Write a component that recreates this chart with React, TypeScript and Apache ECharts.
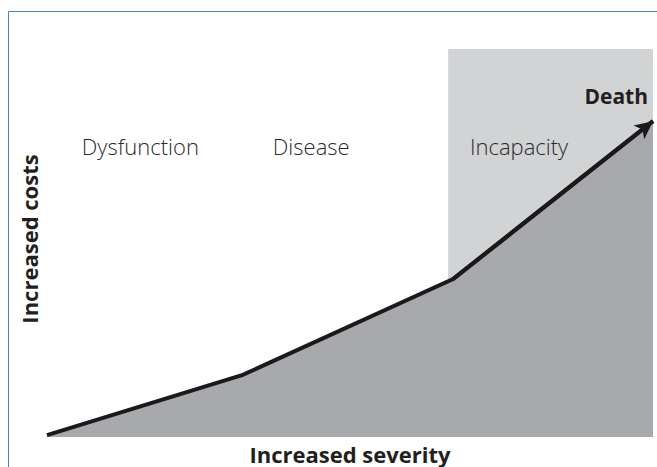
import React, { useEffect, useRef } from "react";
import * as echarts from "echarts";

const severity = [0, 32.3, 67.0, 100];
const costs = [0.5, 16.0, 40.7, 81.4];
const stageLabels = ["Dysfunction", "Disease", "Incapacity"];
const stageCenters = [15.4, 43.6, 77.9];
const incapacityStart = 66.2;
const endLabel = "Death";
const xName = "Increased severity";
const yName = "Increased costs";

const FONT = "'Open Sans', 'Noto Sans', sans-serif";

export default function App() {
  const ref = useRef<HTMLDivElement>(null);
  useEffect(() => {
    if (!ref.current) return;
    const chart = echarts.init(ref.current, undefined, { renderer: "svg" });
    const gridLeft = 47;
    const gridRight = 4;
    const gridTop = 49;
    const gridBottom = 30;
    const W = 657;
    const plotW = W - gridLeft - gridRight;
    const data = severity.map((x, i) => [x, costs[i]]);
    const last = data.length - 1;
    chart.setOption({
      animation: false,
      grid: {
        left: gridLeft,
        right: gridRight,
        top: gridTop,
        bottom: gridBottom,
        containLabel: false,
        outerBoundsMode: "none",
      },
      xAxis: {
        type: "value",
        min: 0,
        max: 100,
        name: xName,
        nameLocation: "middle",
        nameGap: 5,
        nameTextStyle: {
          fontFamily: FONT,
          fontWeight: "bold",
          fontSize: 22,
          lineHeight: 24,
          color: "#231f20",
          verticalAlign: "top",
        },
        axisLine: { show: false },
        axisTick: { show: false },
        axisLabel: { show: false },
        splitLine: { show: false },
      },
      yAxis: {
        type: "value",
        min: 0,
        max: 100,
        axisLine: { show: false },
        axisTick: { show: false },
        axisLabel: { show: false },
        splitLine: { show: false },
      },
      series: [
        {
          type: "line",
          data,
          symbol: "none",
          clip: false,
          lineStyle: { color: "#1a1a1a", width: 4, join: "miter" },
          areaStyle: { color: "#a7a9ac", opacity: 1 },
          z: 3,
          markArea: {
            silent: true,
            itemStyle: { color: "#d1d3d4" },
            data: [[{ xAxis: incapacityStart, yAxis: 0 }, { xAxis: 100, yAxis: 100 }]],
            z: 1,
          },
          markLine: {
            silent: true,
            symbol: ["none", "arrow"],
            symbolSize: [13, 18],
            lineStyle: { color: "#1a1a1a", width: 4, type: "solid" },
            label: { show: false },
            data: [[{ coord: data[last - 1] }, { coord: data[last] }]],
          },
        },
      ],
      graphic: [
        {
          type: "rect",
          z: 100,
          shape: { x: 8.5, y: 11.5, width: 700, height: 500 },
          style: { fill: "none", stroke: "#4f81bd", lineWidth: 1 },
          silent: true,
        },
        ...stageLabels.map((t, i) => ({
          type: "text",
          z: 100,
          x: gridLeft + (stageCenters[i] / 100) * plotW,
          y: 146,
          style: {
            text: t,
            fontFamily: FONT,
            fontSize: 22,
            fontWeight: 300,
            fill: "#2a2a2a",
            align: "center",
            verticalAlign: "middle",
          },
        })),
        {
          type: "text",
          z: 100,
          x: 648,
          y: 96,
          style: {
            text: endLabel,
            fontFamily: FONT,
            fontSize: 21,
            fontWeight: "bold",
            fill: "#231f20",
            align: "right",
            verticalAlign: "middle",
          },
        },
        {
          type: "text",
          z: 100,
          x: 29,
          y: 239,
          rotation: Math.PI / 2,
          style: {
            text: yName,
            fontFamily: FONT,
            fontSize: 22,
            fontWeight: "bold",
            fill: "#231f20",
            align: "center",
            verticalAlign: "middle",
          },
        },
      ],
    });
    return () => chart.dispose();
  }, []);
  return <div ref={ref} style={{ width: 657, height: 467, position: "absolute", left: 0, top: 0 }} />;
}
